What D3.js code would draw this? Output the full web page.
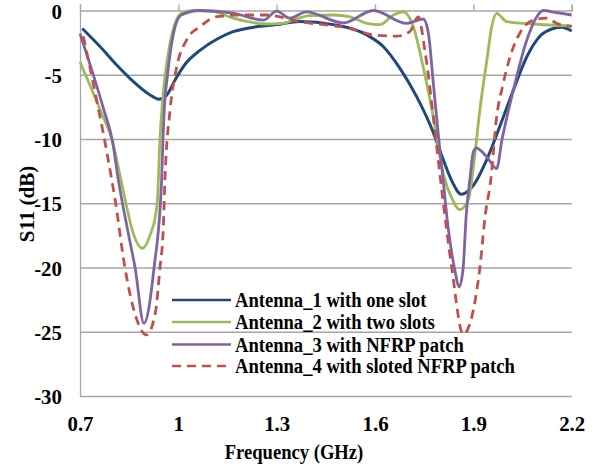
<!DOCTYPE html>
<html>
<head>
<meta charset="utf-8">
<script src="https://cdn.jsdelivr.net/npm/d3@7"></script>
<style>
  body { margin: 0; background: #fff; }
  text { font-family: "Liberation Serif", "Times New Roman", serif; font-weight: bold; fill: #000; }
</style>
</head>
<body>
<script>
// tick values
var xTicks = [0.7, 1, 1.3, 1.6, 1.9, 2.2];
var yTicks = [-30, -25, -20, -15, -10, -5, 0];

// series names
var names = [
  "Antenna_1 with one slot",
  "Antenna_2 with two slots",
  "Antenna_3 with NFRP patch",
  "Antenna_4 with sloted NFRP patch"
];

// Antenna_1 (GHz, dB)
var freq1 = [0.707, 0.761, 0.812, 0.863, 0.914, 0.94, 0.964, 0.99, 1.02, 1.066, 1.12, 1.167, 1.23, 1.3, 1.37,
  1.473, 1.575, 1.625, 1.676, 1.727, 1.778, 1.808, 1.835, 1.863, 1.9, 1.941, 1.981, 2.022, 2.063, 2.103, 2.144, 2.17, 2.2];
var s11_1 = [-1.4, -2.8, -4.24, -5.54, -6.58, -6.9, -6.6, -5.4, -4.2, -3.1, -2.2, -1.65, -1.3, -1.1, -0.85,
  -1.1, -1.9, -2.8, -4.5, -6.7, -9.5, -11.6, -13.3, -14.3, -13.6, -11.6, -9.0, -6.2, -3.6, -2.0, -1.4, -1.3, -1.6];

// Antenna_2
var freq2 = [0.7, 0.761, 0.8, 0.825, 0.84, 0.863, 0.891, 0.915, 0.93, 0.937, 0.943, 0.952, 0.96, 0.975, 0.99, 1.01, 1.045,
  1.1, 1.167, 1.27, 1.32, 1.35, 1.4, 1.473, 1.524, 1.575, 1.615, 1.656, 1.686, 1.717, 1.747, 1.778, 1.808, 1.834,
  1.859, 1.885, 1.9, 1.92, 1.941, 1.956, 1.971, 2.002, 2.083, 2.2];
var s11_2 = [-4.0, -7.7, -10.3, -13.2, -15.0, -17.4, -18.5, -17.4, -16.0, -14.5, -10.5, -7.0, -5.0, -2.5, -1.0, -0.2, 0,
  -0.05, -0.6, -1.05, -1.0, -0.75, -0.4, -0.35, -0.5, -1.0, -1.1, -0.35, -0.1, -1.26, -4.4, -8.3, -12.7, -14.6,
  -15.5, -14.7, -12.2, -7.7, -3.9, -1.26, -0.22, -0.87, -1.05, -1.2];

// Antenna_3
var freq3 = [0.7, 0.77, 0.8, 0.817, 0.847, 0.868, 0.895, 0.926, 0.949, 0.953, 0.958, 0.967, 0.985, 1.009, 1.066,
  1.167, 1.26, 1.3, 1.34, 1.39, 1.503, 1.595, 1.696, 1.747, 1.763, 1.778, 1.798, 1.808, 1.819, 1.842, 1.857,
  1.869, 1.878, 1.89, 1.9, 1.909, 1.941, 1.971, 1.987, 2.022, 2.063, 2.093, 2.113, 2.154, 2.2];
var s11_3 = [-1.8, -7.5, -10.3, -13.2, -17.3, -20.0, -24.35, -20.0, -13.2, -10.0, -7.3, -5.0, -1.8, -0.35, 0,
  -0.2, -0.75, -0.05, -0.6, -0.1, -0.97, 0, -1.0, -0.66, -1.8, -5.7, -10.9, -13.2, -16.0, -20.0, -21.5,
  -20.0, -16.0, -13.0, -11.0, -10.7, -11.4, -12.3, -10.1, -6.2, -2.3, -0.5, 0, -0.17, -0.35];

// Antenna_4
var freq4 = [0.71, 0.751, 0.781, 0.797, 0.807, 0.837, 0.87, 0.903, 0.93, 0.944, 0.954, 0.959, 0.975, 0.995, 1.025,
  1.066, 1.117, 1.188, 1.27, 1.37, 1.524, 1.595, 1.666, 1.706, 1.732, 1.752, 1.778, 1.8, 1.834, 1.869, 1.9,
  1.92, 1.936, 1.953, 1.971, 1.991, 2.012, 2.042, 2.083, 2.124, 2.154, 2.2];
var s11_4 = [-2.0, -7.0, -10.9, -13.2, -14.7, -20.0, -23.8, -25.25, -23.5, -20.0, -17.0, -13.2, -7.7, -4.4, -2.3,
  -1.26, -0.48, -0.35, -0.35, -0.87, -1.4, -1.9, -2.0, -1.65, -0.5, -3.1, -8.3, -13.2, -20.0, -25.2, -23.3,
  -20.0, -16.0, -13.2, -8.3, -5.7, -3.6, -1.75, -0.75, -0.6, -1.0, -1.26];

var colors = ["#1f497d", "#9bbb59", "#8064a2", "#c0504d"];
var gridColor = "#a6a6a6";

window.onload = function(){
  var w = 609, h = 470;
  var left = 80, right = 571.7, top = 10.5, bottom = 396;

  var svg = d3.select("body").append("svg")
    .attr("width", w)
    .attr("height", h);

  var x = d3.scaleLinear().domain([0.7, 2.2]).range([left, right]);
  var y = d3.scaleLinear().domain([-30, 0]).range([bottom, top]);

  // horizontal gridlines + y axis line
  var grid = svg.append("g")
    .attr("transform", "translate(" + left + ",0)")
    .call(d3.axisLeft(y).tickValues(yTicks.slice(0, -1)).tickSize(-(right - left)).tickSizeOuter(0).tickFormat(""));
  grid.selectAll("line").attr("stroke", gridColor).attr("stroke-width", 1.3);
  grid.select(".domain").attr("stroke", gridColor).attr("stroke-width", 1.3);

  // x axis line at 0 dB with outward ticks
  var topAxis = svg.append("g")
    .attr("transform", "translate(0," + y(0) + ")")
    .call(d3.axisTop(x).tickValues(xTicks).tickSize(6).tickSizeOuter(6).tickFormat(""));
  topAxis.selectAll("line").attr("stroke", gridColor).attr("stroke-width", 1.3);
  topAxis.select(".domain").attr("stroke", gridColor).attr("stroke-width", 1.3);

  // x tick labels at bottom
  var xLab = svg.append("g")
    .attr("transform", "translate(0," + bottom + ")")
    .call(d3.axisBottom(x).tickValues(xTicks).tickSize(0).tickFormat(function(d){ return String(d); }));
  xLab.select(".domain").remove();
  xLab.selectAll("text")
    .attr("y", 27)
    .attr("dy", "0.35em")
    .attr("transform", "scale(0.95,1)")
    .style("font-size", "22px")
    .style("font-family", "Liberation Serif")
    .style("font-weight", "bold")
    .attr("fill", "#000");

  // y tick labels
  var yLab = svg.append("g")
    .attr("transform", "translate(" + left + ",0)")
    .call(d3.axisLeft(y).tickValues(yTicks).tickSize(0).tickFormat(function(d){ return String(d); }));
  yLab.select(".domain").remove();
  yLab.selectAll("text")
    .attr("x", -19)
    .attr("dy", "0.35em")
    .attr("transform", "scale(0.95,1)")
    .style("font-size", "22px")
    .style("font-family", "Liberation Serif")
    .style("font-weight", "bold")
    .attr("fill", "#000");

  // series
  var series = [
    { f: freq1, v: s11_1, dash: null, sw: 3 },
    { f: freq2, v: s11_2, dash: null, sw: 2.8 },
    { f: freq3, v: s11_3, dash: null, sw: 2.8 },
    { f: freq4, v: s11_4, dash: "9,6", sw: 2.8 }
  ];

  var line = d3.line()
    .x(function(d){ return x(d[0]); })
    .y(function(d){ return y(d[1]); })
    .curve(d3.curveMonotoneX);

  // draw green, blue, purple, red order similar to original layering
  [0, 1, 2, 3].forEach(function(i){
    var s = series[i];
    svg.append("path")
      .datum(d3.zip(s.f, s.v))
      .attr("fill", "none")
      .attr("stroke", colors[i])
      .attr("stroke-width", s.sw)
      .attr("stroke-dasharray", s.dash)
      .attr("stroke-linejoin", "round")
      .attr("d", line);
  });

  // legend
  var legend = svg.append("g");
  var rowY = [300, 322, 344.5, 366];
  names.forEach(function(n, i){
    legend.append("line")
      .attr("x1", 172).attr("x2", 231)
      .attr("y1", rowY[i]).attr("y2", rowY[i])
      .attr("stroke", colors[i])
      .attr("stroke-width", 2.6)
      .attr("stroke-dasharray", series[i].dash);
    legend.append("text")
      .attr("transform", "translate(235," + rowY[i] + ") scale(0.93,1)")
      .attr("dy", "0.35em")
      .style("font-size", "20px")
      .text(n);
  });

  // axis titles
  svg.append("text")
    .attr("transform", "translate(294,452) scale(0.93,1)")
    .attr("text-anchor", "middle")
    .attr("dy", "0.35em")
    .style("font-size", "20px")
    .text("Frequency (GHz)");

  svg.append("text")
    .attr("transform", "translate(27,204) rotate(-90)")
    .attr("text-anchor", "middle")
    .attr("dy", "0.35em")
    .style("font-size", "21px")
    .text("S11 (dB)");
};
</script>
</body>
</html>
